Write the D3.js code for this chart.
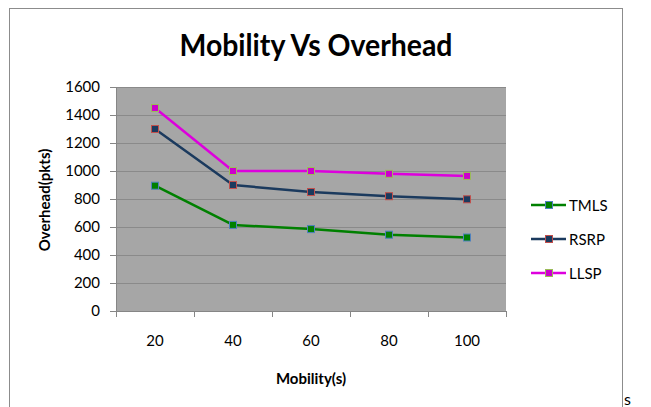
<!DOCTYPE html>
<html>
<head>
<meta charset="utf-8">
<script src="https://cdn.jsdelivr.net/npm/d3@7"></script>
<style>
  html, body { margin: 0; padding: 0; background: #ffffff; }
  svg { display: block; }
  text { font-family: Lato, "Open Sans", sans-serif; fill: #000; }
</style>
</head>
<body>
<svg id="chart" width="651" height="407"></svg>
<script>
// Mobility (s) on the x axis
const categories = ["20", "40", "60", "80", "100"];
// Overhead (pkts) per protocol
const tmls = [895, 615, 585, 545, 525];
const rsrp = [1300, 900, 850, 820, 798];
const llsp = [1450, 1000, 1000, 980, 965];
const yTicks = [0, 200, 400, 600, 800, 1000, 1200, 1400, 1600];

const seriesNames = ["TMLS", "RSRP", "LLSP"];
const seriesValues = [tmls, rsrp, llsp];
const lineColors = ["#008000", "#1b3a5e", "#dd00dd"];
const markerFill = ["#008000", "#1b3a5e", "#cc00cc"];
const markerStroke = ["#4f81bd", "#c0504d", "#9bbb59"];

const svg = d3.select("#chart");

// outer chart frame
svg.append("rect")
  .attr("x", 9.5).attr("y", 8.5)
  .attr("width", 613).attr("height", 420)
  .attr("fill", "#fff").attr("stroke", "#8c8c8c").attr("stroke-width", 1);

const plot = { left: 116, right: 506, top: 87, bottom: 311 };

const x = d3.scaleBand().domain(categories).range([plot.left, plot.right]).padding(0);
const y = d3.scaleLinear().domain([0, 1600]).range([plot.bottom, plot.top]);

// plot area background
svg.append("rect")
  .attr("x", plot.left).attr("y", plot.top)
  .attr("width", plot.right - plot.left).attr("height", plot.bottom - plot.top)
  .attr("fill", "#a6a6a6");

// horizontal gridlines
svg.append("g").selectAll("line")
  .data(yTicks.filter(d => d > 0))
  .join("line")
  .attr("x1", plot.left).attr("x2", plot.right)
  .attr("y1", d => Math.round(y(d)) + 0.5).attr("y2", d => Math.round(y(d)) + 0.5)
  .attr("stroke", "#8a8a8a").attr("stroke-width", 1);

// y axis
const yAxis = svg.append("g")
  .attr("transform", `translate(${plot.left},0)`)
  .call(d3.axisLeft(y).tickValues(yTicks).tickSize(6).tickPadding(10).tickFormat(d3.format("d")));
yAxis.select(".domain").attr("stroke", "#868686");
yAxis.selectAll(".tick line").attr("stroke", "#868686");
yAxis.selectAll(".tick text").attr("font-size", 15).attr("font-family", "Lato").attr("fill", "#000");

// x axis
const xAxis = svg.append("g")
  .attr("transform", `translate(0,${plot.bottom})`)
  .call(d3.axisBottom(x).tickSize(0).tickPadding(24));
xAxis.select(".domain").attr("stroke", "#868686");
xAxis.selectAll(".tick text").attr("font-size", 15).attr("font-family", "Lato").attr("fill", "#000");
// category boundary tick marks
svg.append("g").selectAll("line")
  .data(categories.map(c => x(c)).concat([x.range()[1]]))
  .join("line")
  .attr("x1", d => Math.round(d) + 0.5).attr("x2", d => Math.round(d) + 0.5)
  .attr("y1", plot.bottom).attr("y2", plot.bottom + 6)
  .attr("stroke", "#868686");

const cx = c => x(c) + x.bandwidth() / 2;
const line = d3.line().x((d, i) => cx(categories[i])).y(d => y(d));

// series lines and markers
seriesValues.forEach((vals, s) => {
  svg.append("path")
    .datum(vals)
    .attr("d", line)
    .attr("fill", "none")
    .attr("stroke", lineColors[s])
    .attr("stroke-width", 2.5)
    .attr("stroke-linejoin", "round");
  svg.append("g").selectAll("rect")
    .data(vals)
    .join("rect")
    .attr("x", (d, i) => cx(categories[i]) - 3.5)
    .attr("y", d => y(d) - 3.5)
    .attr("width", 7).attr("height", 7)
    .attr("fill", markerFill[s])
    .attr("stroke", markerStroke[s]).attr("stroke-width", 1);
});

// legend
const legendY = [205, 239, 273];
seriesNames.forEach((name, s) => {
  const g = svg.append("g").attr("transform", `translate(0,${legendY[s]})`);
  g.append("line").attr("x1", 531).attr("x2", 566).attr("y1", 0).attr("y2", 0)
    .attr("stroke", lineColors[s]).attr("stroke-width", 2.5);
  g.append("rect").attr("x", 545.5).attr("y", -3.5).attr("width", 7).attr("height", 7)
    .attr("fill", markerFill[s]).attr("stroke", markerStroke[s]);
  g.append("text").attr("x", 569).attr("y", 5.5).attr("font-size", 15).text(name);
});

// title
svg.append("text")
  .attr("x", 316).attr("y", 56)
  .attr("text-anchor", "middle")
  .attr("font-size", 30).attr("font-weight", "bold")
  .attr("textLength", 273).attr("lengthAdjust", "spacingAndGlyphs")
  .text("Mobility Vs Overhead");

// axis titles
svg.append("text")
  .attr("x", 311).attr("y", 384)
  .attr("text-anchor", "middle")
  .attr("font-size", 15).attr("font-weight", "bold")
  .text("Mobility(s)");

svg.append("text")
  .attr("transform", "translate(50,200) rotate(-90)")
  .attr("text-anchor", "middle")
  .attr("font-size", 15).attr("font-weight", "bold")
  .text("Overhead(pkts)");

// trailing character beside the frame
svg.append("text")
  .attr("x", 624).attr("y", 405)
  .attr("font-family", "Liberation Serif")
  .attr("font-size", 16)
  .text("s");
</script>
</body>
</html>
